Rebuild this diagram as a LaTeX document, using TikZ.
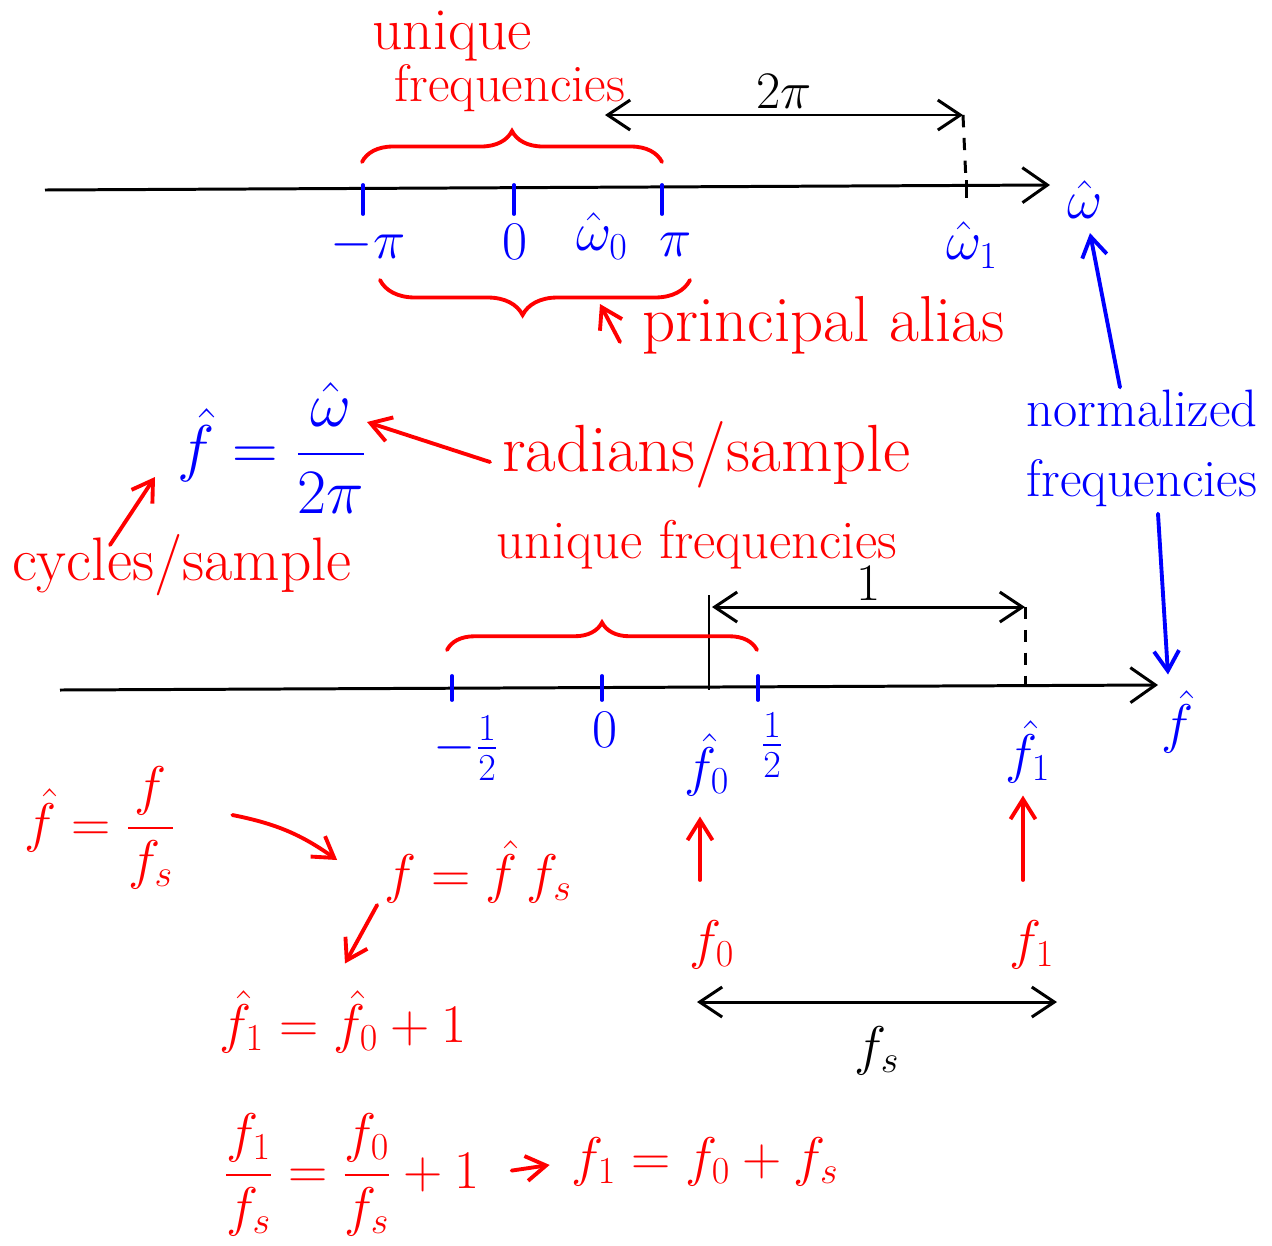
\documentclass[tikz,border=0pt]{standalone}
\usepackage{fix-cm}
\usepackage{amsmath}
\usetikzlibrary{arrows.meta,decorations.pathreplacing}
\begin{document}
\begin{tikzpicture}[x=0.02cm, y=-0.02cm,
  hand/.style={font=\fontsize{#1}{#1}\selectfont, inner sep=1pt},
  hand/.default=30,
  mth/.style={font=\fontsize{31}{36}\selectfont, inner sep=1pt},
  ink/.style={line width=2.2pt, line cap=round},
  axis/.style={line width=1.7pt, -{Straight Barb[length=0.5cm,width=0.7cm]}},
  tip/.style={-{Straight Barb[length=0.4cm,width=0.5cm]}},
  dtip/.style={line width=1.7pt, {Straight Barb[length=0.45cm,width=0.6cm]}-{Straight Barb[length=0.45cm,width=0.6cm]}},
  dashline/.style={line width=1.7pt, dash pattern=on 7pt off 6pt},
  brc/.style={red, ink, decorate, decoration={brace, amplitude=#1}},
  brc/.default=0.6cm]
  \useasboundingbox (0,0) rectangle (1272,1245);
  % top axis (omega hat)
  \coordinate (wL) at (45,190);
  \coordinate (wR) at (1050,185);
  \draw[axis] (wL) -- (wR);
  \node[blue, mth] (what) at (1085,200) {$\hat\omega$};
  \foreach \x in {363,514,662} \draw[blue, ink] (\x,185) -- (\x,214);
  \node[blue, mth] (mpi) at (368,245) {$-\pi$};
  \node[blue, mth] (zero) at (515,242) {$0$};
  \node[blue, mth] (w0) at (602,236) {$\hat\omega_0$};
  \node[blue, mth] (pi) at (676,245) {$\pi$};
  \node[blue, mth] (w1) at (972,245) {$\hat\omega_1$};
  \draw[line width=1.7pt] (966,180) -- (966,198);
  \coordinate (tpL) at (605,115);
  \coordinate (tpR) at (963,115);
  \draw[dtip] (tpL) -- node[above=2pt, hand] (twopi) {$2\pi$} (tpR);
  \draw[dashline] (tpR) -- (966,182);
  % braces round the top axis
  \draw[brc=0.62cm] (362,162) -- (662,162);
  \node[red, hand=34] (uq1) at (452,36) {unique};
  \node[red, hand=30] (uq2) at (510,88) {frequencies};
  \draw[brc=0.7cm, decoration={aspect=0.54}] (690,280) -- (380,280);
  \node[red, hand=37, anchor=west] (alias) at (640,325) {principal alias};
  \coordinate (aliasTip) at (600,304);
  \draw[red, ink, tip] ([shift={(-20,17)}]alias.west) -- (aliasTip);
  % normalized frequency
  \node[blue, mth, font=\fontsize{36}{40}\selectfont] (fdef) at (272,448) {$\hat f = \dfrac{\hat\omega}{2\pi}$};
  \node[red, hand=38, anchor=west] (rad) at (500,455) {radians/sample};
  \coordinate (wTip) at (367,422);
  \draw[red, ink, tip] ([shift={(-10,7)}]rad.west) -- (wTip);
  \node[red, hand=35] (cyc) at (182,565) {cycles/sample};
  \coordinate (fTip) at (155,477);
  \draw[red, ink, tip] (110,545) -- (fTip);
  \node[blue, align=center, font=\fontsize{30}{40}\selectfont, inner sep=1pt] (norm) at (1142,448) {normalized\\frequencies};
  % bottom axis (f hat)
  \coordinate (fL) at (60,690);
  \coordinate (fR) at (1158,685);
  \draw[axis] (fL) -- (fR);
  \node[blue, mth] (fax) at (1178,722) {$\hat f$};
  \draw[blue, ink, tip] ([shift={(-22,0)}]norm.north) -- ([shift={(5,12)}]what.south);
  \draw[blue, ink, tip] ([shift={(16,5)}]norm.south) -- ([shift={(-10,-14)}]fax.north);
  \foreach \x in {452,602,758} \draw[blue, ink] (\x,676) -- (\x,700);
  \node[blue, mth] (mhalf) at (466,748) {$-\frac{1}{2}$};
  \node[blue, mth] (zerob) at (605,730) {$0$};
  \node[blue, mth] (fh0) at (707,765) {$\hat f_0$};
  \node[blue, mth] (half) at (772,745) {$\frac{1}{2}$};
  \node[blue, mth] (fh1) at (1028,752) {$\hat f_1$};
  \draw[line width=1.7pt] (709,595) -- (709,690);
  \coordinate (onL) at (712,607);
  \coordinate (onR) at (1025,607);
  \draw[dtip] (onL) -- node[above=2pt, hand] (one) {$1$} (onR);
  \draw[dashline] (onR) -- (1025,685);
  \draw[brc=0.55cm] (447,650) -- (757,650);
  \node[red, hand=31] (uq3) at (697,545) {unique frequencies};
  % actual frequencies
  \node[red, mth] (f0) at (712,945) {$f_0$};
  \node[red, mth] (f1) at (1032,945) {$f_1$};
  \draw[red, ink, tip] ([shift={(-12,-65)}]f0.center) -- ([shift={(-7,18)}]fh0.south);
  \draw[red, ink, tip] ([shift={(-9,-65)}]f1.center) -- ([shift={(-5,10)}]fh1.south);
  \coordinate (fsL) at (697,1002);
  \coordinate (fsR) at (1057,1002);
  \draw[dtip] (fsL) -- node[below=12pt, mth] (fs) {$f_s$} (fsR);
  % derivation
  \node[red, mth] (eqA) at (100,828) {$\hat f = \dfrac{f}{f_s}$};
  \node[red, mth] (eqB) at (478,872) {$f = \hat f\, f_s$};
  \node[red, mth] (eqC) at (343,1022) {$\hat f_1 = \hat f_0 + 1$};
  \node[red, mth] (eqD) at (352,1175) {$\dfrac{f_1}{f_s} = \dfrac{f_0}{f_s} + 1$};
  \node[red, mth] (eqE) at (705,1162) {$f_1 = f_0 + f_s$};
  \draw[red, ink, tip] ([shift={(55,-13)}]eqA.east) to[bend left=12] ([shift={(-45,-12)}]eqB.west);
  \draw[red, ink, tip] ([shift={(-5,33)}]eqB.west) -- ([shift={(2,-25)}]eqC.north);
  \draw[red, ink, tip, shorten <=0.6cm, shorten >=0.4cm] (eqD.east) -- (eqE.west);
\end{tikzpicture}
\end{document}
